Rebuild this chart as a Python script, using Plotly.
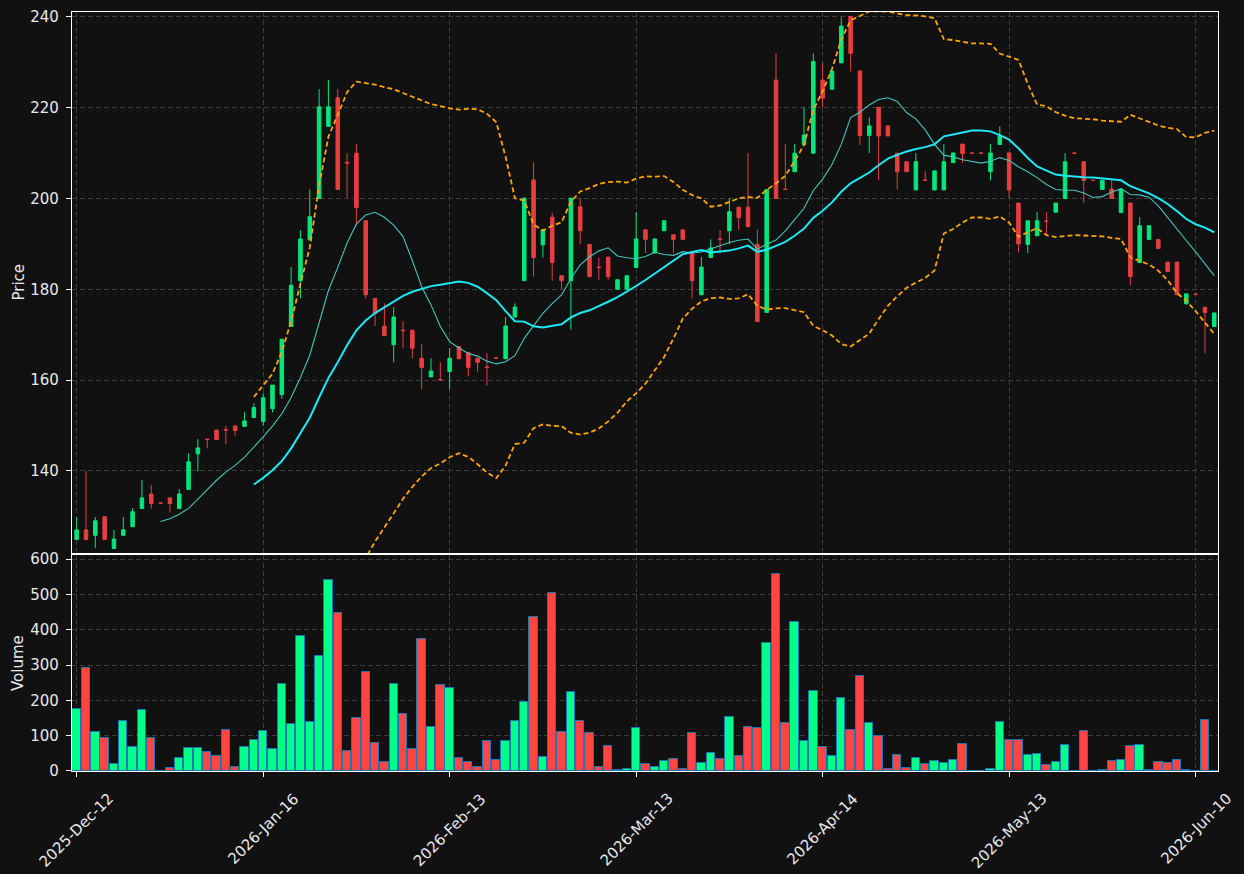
import plotly.graph_objects as go
import pandas as pd

# ---------------- data ----------------
opens = [124.9, 127.0, 125.8, 129.9, 122.9, 125.8, 127.7, 131.7, 134.9, 132.9,
         134.05, 131.7, 135.9, 143.75, 147.0, 149.0, 149.1, 149.9, 149.8, 151.75,
         150.9, 153.7, 156.8, 171.8, 181.9, 190.9, 200.0, 215.9, 222.2, 208.0,
         210.0, 195.1, 178.0, 171.9, 167.8, 171.0, 171.0, 164.8, 160.7, 160.1,
         161.9, 167.4, 166.1, 164.8, 162.9, 164.9, 164.7, 173.9, 181.9, 204.1,
         189.8, 195.9, 183.0, 181.9, 198.2, 189.9, 184.9, 187.1, 180.0, 180.0,
         184.8, 193.1, 188.0, 192.9, 192.0, 193.1, 188.0, 178.8, 187.0, 191.1,
         192.9, 198.1, 198.1, 189.9, 174.9, 226.1, 202.05, 205.9, 211.9, 210.0,
         226.1, 224.1, 229.9, 240.1, 228.1, 213.9, 220.1, 216.0, 210.0, 208.1,
         201.9, 204.05, 201.9, 201.9, 207.9, 212.0, 210.0, 210.0, 205.9, 211.9,
         210.05, 199.0, 189.9, 191.8, 195.0, 197.0, 200.0, 210.0, 208.1, 204.0,
         202.0, 202.1, 196.9, 199.0, 185.9, 191.0, 191.0, 186.0, 186.0, 176.8,
         178.9, 176.05, 171.8]
highs = [129.8, 140.0, 129.8, 129.9, 127.0, 129.8, 131.8, 138.0, 136.9, 132.9,
         134.05, 136.0, 143.9, 147.0, 147.0, 149.0, 149.9, 149.9, 152.9, 154.9,
         157.1, 158.9, 169.0, 184.9, 193.0, 202.0, 224.1, 226.1, 224.1, 210.0,
         212.0, 195.1, 178.0, 176.9, 176.1, 173.0, 171.0, 168.0, 164.8, 163.9,
         167.0, 167.4, 166.2, 164.9, 165.9, 164.9, 173.9, 176.9, 200.1, 208.0,
         193.1, 196.9, 183.0, 200.1, 200.1, 189.9, 187.0, 187.1, 182.1, 183.0,
         197.0, 193.1, 191.1, 195.1, 192.0, 193.1, 188.0, 187.1, 191.0, 193.1,
         200.1, 198.1, 210.0, 193.1, 202.1, 232.0, 212.0, 212.0, 220.1, 232.0,
         229.9, 228.1, 239.9, 240.1, 228.1, 217.9, 220.1, 216.0, 210.0, 208.1,
         210.0, 206.0, 206.1, 212.0, 210.1, 212.0, 210.0, 210.0, 212.0, 215.9,
         210.1, 199.0, 195.1, 197.0, 197.0, 199.0, 210.0, 210.0, 208.1, 204.0,
         204.0, 204.0, 202.2, 199.0, 195.9, 194.0, 191.0, 186.0, 186.0, 179.0,
         178.9, 176.1, 174.8]
lows = [124.8, 124.8, 123.0, 124.8, 122.9, 125.7, 127.7, 131.7, 131.7, 132.9,
        130.8, 131.7, 135.9, 139.9, 145.0, 146.9, 145.9, 147.8, 149.7, 151.7,
        149.9, 152.9, 155.9, 171.8, 178.0, 190.9, 200.0, 215.8, 201.9, 200.1,
        194.0, 178.0, 171.9, 169.8, 163.9, 167.0, 164.8, 158.0, 160.7, 160.0,
        158.0, 164.6, 160.8, 161.9, 158.8, 164.8, 164.6, 173.8, 181.9, 182.8,
        187.0, 181.9, 180.0, 171.1, 189.9, 182.8, 182.1, 182.1, 180.0, 180.0,
        184.8, 188.0, 188.0, 192.9, 188.0, 191.0, 178.0, 178.7, 187.0, 187.9,
        189.9, 193.1, 193.8, 172.8, 174.8, 199.9, 202.0, 205.9, 211.8, 209.9,
        220.1, 224.0, 229.9, 228.0, 211.8, 210.0, 204.0, 213.7, 202.0, 205.9,
        201.9, 204.0, 201.9, 201.9, 207.9, 207.9, 210.0, 210.0, 204.0, 211.8,
        200.1, 188.1, 188.0, 191.8, 191.9, 196.9, 199.9, 210.0, 199.0, 204.0,
        201.9, 199.9, 196.9, 180.9, 185.8, 190.9, 188.9, 183.9, 178.8, 176.7,
        178.9, 165.9, 171.7]
closes = [127.0, 124.9, 129.0, 124.9, 125.0, 127.0, 131.0, 134.05, 132.8, 132.9,
          132.8, 134.9, 142.0, 145.05, 146.9, 146.9, 149.0, 148.9, 151.0, 153.95,
          156.1, 158.9, 169.0, 180.9, 191.1, 196.0, 220.2, 220.2, 202.0, 207.8,
          198.0, 178.8, 174.7, 169.8, 173.9, 170.9, 167.0, 162.8, 162.0, 160.05,
          164.8, 164.7, 162.8, 163.9, 162.8, 164.8, 171.9, 176.1, 200.1, 187.0,
          193.1, 185.9, 181.9, 200.1, 192.9, 182.8, 184.8, 182.8, 182.1, 183.0,
          191.1, 191.0, 191.1, 195.1, 191.0, 191.0, 181.9, 184.9, 189.1, 191.0,
          197.1, 195.8, 193.8, 172.9, 202.0, 200.0, 202.0, 210.0, 214.0, 230.2,
          222.1, 228.1, 238.0, 232.0, 213.9, 216.0, 213.8, 213.8, 205.9, 205.9,
          208.1, 204.0, 206.1, 208.1, 210.05, 209.9, 210.0, 210.0, 210.05, 213.9,
          201.9, 190.0, 195.1, 195.1, 195.0, 199.0, 208.1, 210.0, 204.0, 204.0,
          204.0, 200.0, 202.1, 182.8, 194.0, 194.0, 189.0, 183.9, 178.8, 179.0,
          178.9, 174.9, 174.8]
volumes = [177, 292, 110, 93, 19, 141, 67, 173, 93, 0,
           8, 36, 64, 64, 53, 42, 116, 12, 67, 87,
           113, 62, 246, 133, 383, 138, 326, 542, 448, 57,
           150, 281, 79, 25, 246, 161, 62, 374, 124, 244,
           235, 36, 25, 10, 84, 30, 84, 141, 195, 437,
           39, 505, 110, 224, 141, 107, 10, 70, 2, 5,
           121, 19, 10, 27, 33, 5, 107, 22, 50, 33,
           153, 42, 124, 121, 363, 559, 136, 423, 84, 227,
           67, 42, 207, 116, 269, 136, 99, 5, 45, 8,
           36, 19, 27, 22, 30, 76, 0, 0, 5, 138,
           87, 87, 45, 47, 16, 25, 73, 0, 113, 0,
           2, 27, 30, 70, 73, 2, 25, 22, 30, 2,
           0, 144, 1]
tick_labels = ["2025-Dec-12", "2026-Jan-16", "2026-Feb-13", "2026-Mar-13",
               "2026-Apr-14", "2026-May-13", "2026-Jun-10"]
tick_step = 20

# ---------------- derived ----------------
n = len(closes)
idx = list(range(n))
s = pd.Series(closes)
ma10 = s.rolling(10).mean()
ma20 = s.rolling(20).mean()
sd20 = s.rolling(20).std(ddof=0)
upper = ma20 + 2 * sd20
lower = ma20 - 2 * sd20

up = [i for i in idx if closes[i] > opens[i]]
dn = [i for i in idx if not closes[i] > opens[i]]

CANDLE_UP = "#02e77c"
CANDLE_DN = "#e73f3f"
VOL_UP = "#00ff88"
VOL_DN = "#ff4444"
BG = "#111111"
TXT = "#e8e8e8"
GRID = "#3c3c3c"
FONT = "DejaVu Sans"
FS = 15

fig = go.Figure()

def candle(sel, color):
    return go.Candlestick(
        x=[idx[i] for i in sel], open=[opens[i] for i in sel], high=[highs[i] for i in sel],
        low=[lows[i] for i in sel], close=[closes[i] for i in sel],
        increasing=dict(line=dict(color=color, width=1), fillcolor=color),
        decreasing=dict(line=dict(color=color, width=1), fillcolor=color),
        whiskerwidth=0, xaxis="x", yaxis="y", showlegend=False, hoverinfo="skip")

fig.add_trace(candle(up, CANDLE_UP))
fig.add_trace(candle(dn, CANDLE_DN))

fig.add_trace(go.Scatter(x=idx, y=ma10, mode="lines", line=dict(color="#45c6bd", width=1.1),
                         xaxis="x", yaxis="y", showlegend=False, hoverinfo="skip"))
fig.add_trace(go.Scatter(x=idx, y=ma20, mode="lines", line=dict(color="#1de9f6", width=2),
                         xaxis="x", yaxis="y", showlegend=False, hoverinfo="skip"))
for band in (upper, lower):
    fig.add_trace(go.Scatter(x=idx, y=band, mode="lines",
                             line=dict(color="#ffa500", width=1.8, dash="5px,3px"),
                             xaxis="x", yaxis="y", showlegend=False, hoverinfo="skip"))

vcolors = [VOL_UP if closes[i] > opens[i] else VOL_DN for i in idx]
fig.add_trace(go.Bar(x=idx, y=volumes, marker=dict(color=vcolors, line=dict(color="#1f77b4", width=1)),
                     width=0.9, xaxis="x2", yaxis="y2", showlegend=False, hoverinfo="skip"))

tickvals = list(range(0, n, tick_step))
axis_common = dict(showline=True, linecolor="white", linewidth=1.2, mirror=True,
                   showgrid=True, gridcolor=GRID, griddash="5px,3px", gridwidth=1,
                   zeroline=False, tickfont=dict(color=TXT, size=FS, family=FONT),
                   ticks="outside", tickcolor="white", ticklen=5, ticklabelstandoff=4)

# x tick labels: rotated 45 degrees and centred under each tick (matplotlib style)
xlabel_ann = [dict(text=lab, x=tv, xref="x2", y=-0.021, yref="paper", textangle=-45,
                   showarrow=False, xanchor="center", yanchor="top",
                   font=dict(color=TXT, size=FS, family=FONT))
              for tv, lab in zip(tickvals, tick_labels)]

fig.update_layout(
    width=1244, height=874,
    paper_bgcolor=BG, plot_bgcolor=BG,
    margin=dict(l=72, r=26, t=12, b=103, autoexpand=False),
    boxgap=0.46,
    bargap=0,
    font=dict(family=FONT, color=TXT, size=FS),
    xaxis=dict(axis_common, domain=[0, 1], anchor="y", range=[-0.5, 122.4],
               tickvals=tickvals, showticklabels=False, ticks="",
               rangeslider=dict(visible=False)),
    xaxis2=dict(axis_common, domain=[0, 1], anchor="y2", range=[-0.5, 122.4],
                tickvals=tickvals, showticklabels=False, matches="x"),
    yaxis=dict(axis_common, domain=[0.2872, 1], anchor="x", range=[121.9, 241.1],
               tickvals=[140, 160, 180, 200, 220, 240]),
    yaxis2=dict(axis_common, domain=[0, 0.2846], anchor="x2", range=[0, 612],
                tickvals=[0, 100, 200, 300, 400, 500, 600]),
    annotations=[
        dict(text="Price", xref="paper", yref="paper", x=-0.0471, y=0.6436, textangle=-90,
             showarrow=False, xanchor="center", yanchor="middle",
             font=dict(color=TXT, size=FS, family=FONT)),
        dict(text="Volume", xref="paper", yref="paper", x=-0.0471, y=0.1423, textangle=-90,
             showarrow=False, xanchor="center", yanchor="middle",
             font=dict(color=TXT, size=FS, family=FONT)),
    ] + xlabel_ann,
)

fig.write_html("out.html")
